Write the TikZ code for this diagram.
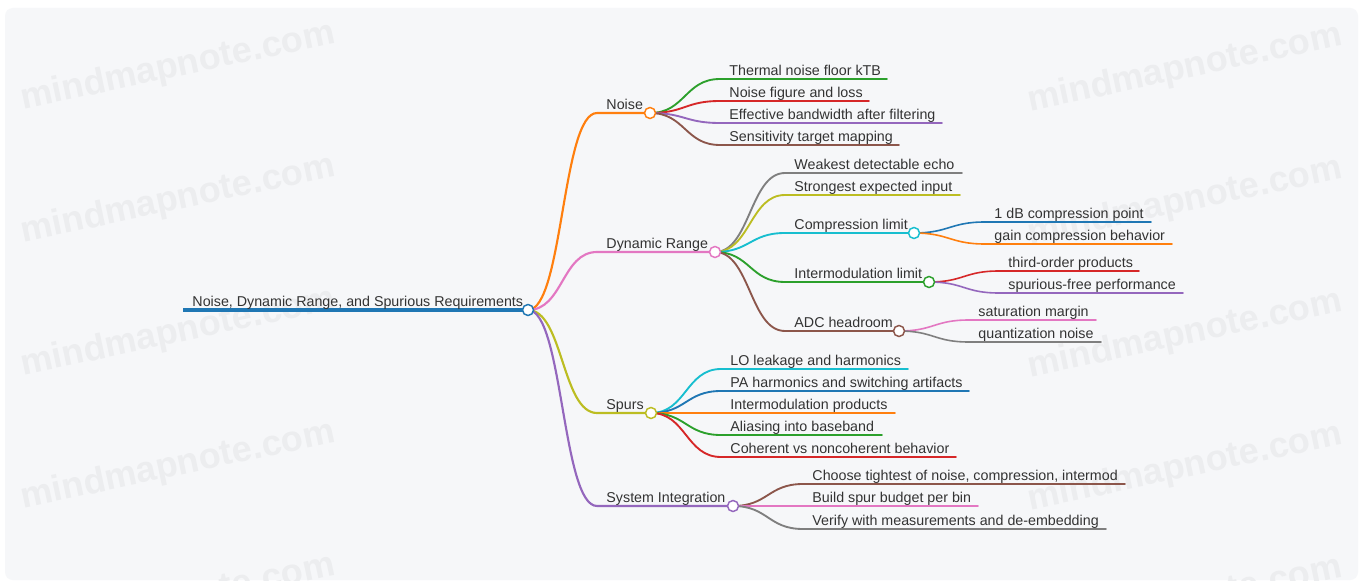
\documentclass[tikz,border=0pt]{standalone}
\usepackage{fontspec}
\setmainfont{Liberation Sans}
\definecolor{cblue}{HTML}{1F77B4}
\definecolor{corange}{HTML}{FF7F0E}
\definecolor{cgreen}{HTML}{2CA02C}
\definecolor{cred}{HTML}{D62728}
\definecolor{cpurple}{HTML}{9467BD}
\definecolor{cbrown}{HTML}{8C564B}
\definecolor{cpink}{HTML}{E377C2}
\definecolor{cgray}{HTML}{7F7F7F}
\definecolor{colive}{HTML}{BCBD22}
\definecolor{ccyan}{HTML}{17BECF}
\definecolor{textc}{HTML}{333333}
\definecolor{panelc}{HTML}{F6F7F9}
\definecolor{wmc}{HTML}{ECEDEF}
\tikzset{
  txt/.style={inner sep=0pt, anchor=base west, text=textc, font=\fontsize{10.7}{12}\selectfont},
  dot/.style={circle, minimum size=8.25pt, inner sep=0pt, fill=white, line width=1.1pt},
  lvA/.style={line width=3pt},
  lvB/.style={line width=1.6pt},
  lvC/.style={line width=1.4pt},
  lvD/.style={line width=1.2pt},
  wm/.style={text=wmc, inner sep=0pt, rotate=12, font=\fontsize{27}{30}\selectfont\bfseries}
}
% #1 name, #2 parent coordinate, #3 colour, #4 x start, #5 x end, #6 y, #7 text, #8 width style
\newcommand\mmbranch[8]{%
  \coordinate (#1-s) at (#4,#6);
  \coordinate (#1-e) at (#5,#6);
  \draw[#3, #8, line cap=round] (#2) .. controls +(35,0) and +(-35,0) .. (#1-s) -- (#1-e);
  \node[txt] (#1) at ([xshift=6.9pt,yshift=2.8pt]#1-s) {#7};
}
\begin{document}
\begin{tikzpicture}[x=0.75pt,y=-0.75pt]
\useasboundingbox (0,0) rectangle (1359,581);
\fill[white] (0,0) rectangle (1359,581);
\fill[panelc, rounded corners=6pt] (5,8) rectangle (1358,580);
\begin{scope}
  \clip[rounded corners=6pt] (5,8) rectangle (1358,580);
  \foreach \wy [count=\i] in {67,200,333,466,599} {
    \node[wm] (wmL\i) at (178,\wy) {mindmapnote.com};
    \node[wm] (wmR\i) at (1185,\wy+2) {mindmapnote.com};
  }
\end{scope}
% root
\coordinate (root-s) at (183,310);
\coordinate (root-e) at (528,310);
\draw[cblue, lvA] (root-s) -- (root-e);
\node[txt] (root) at ([xshift=6.9pt,yshift=2.8pt]root-s) {Noise, Dynamic Range, and Spurious Requirements};
% level 1
\mmbranch{noise}{root-e}{corange}{597}{650}{113}{Noise}{lvB}
\mmbranch{dr}{root-e}{cpink}{597}{715}{252}{Dynamic Range}{lvB}
\mmbranch{spurs}{root-e}{colive}{597}{651}{413}{Spurs}{lvB}
\mmbranch{sys}{root-e}{cpurple}{597}{733}{506}{System Integration}{lvB}
% noise
\mmbranch{thermal}{noise-e}{cgreen}{720}{887}{79}{Thermal noise floor kTB}{lvC}
\mmbranch{nfig}{noise-e}{cred}{720}{869}{101}{Noise figure and loss}{lvC}
\mmbranch{effbw}{noise-e}{cpurple}{720}{942}{123}{Effective bandwidth after filtering}{lvC}
\mmbranch{sens}{noise-e}{cbrown}{720}{899}{145}{Sensitivity target mapping}{lvC}
% dynamic range
\mmbranch{weak}{dr-e}{cgray}{785}{962}{173}{Weakest detectable echo}{lvC}
\mmbranch{strong}{dr-e}{colive}{785}{960}{195}{Strongest expected input}{lvC}
\mmbranch{comp}{dr-e}{ccyan}{785}{914}{233}{Compression limit}{lvC}
\mmbranch{imod}{dr-e}{cgreen}{785}{929}{282}{Intermodulation limit}{lvC}
\mmbranch{adc}{dr-e}{cbrown}{785}{899}{331}{ADC headroom}{lvC}
\mmbranch{dbone}{comp-e}{cblue}{985}{1151}{222}{1 dB compression point}{lvD}
\mmbranch{gaincomp}{comp-e}{corange}{985}{1172}{244}{gain compression behavior}{lvD}
\mmbranch{third}{imod-e}{cred}{999}{1139}{271}{third-order products}{lvD}
\mmbranch{sfdr}{imod-e}{cpurple}{999}{1183}{293}{spurious-free performance}{lvD}
\mmbranch{sat}{adc-e}{cpink}{969}{1096}{320}{saturation margin}{lvD}
\mmbranch{quant}{adc-e}{cgray}{969}{1101}{342}{quantization noise}{lvD}
% spurs
\mmbranch{lo}{spurs-e}{ccyan}{721}{908}{369}{LO leakage and harmonics}{lvC}
\mmbranch{pa}{spurs-e}{cblue}{721}{969}{391}{PA harmonics and switching artifacts}{lvC}
\mmbranch{imp}{spurs-e}{corange}{721}{895}{413}{Intermodulation products}{lvC}
\mmbranch{alias}{spurs-e}{cgreen}{721}{882}{435}{Aliasing into baseband}{lvC}
\mmbranch{coh}{spurs-e}{cred}{721}{956}{457}{Coherent vs noncoherent behavior}{lvC}
% system integration
\mmbranch{choose}{sys-e}{cbrown}{803}{1125}{484}{Choose tightest of noise, compression, intermod}{lvC}
\mmbranch{build}{sys-e}{cpink}{803}{978}{506}{Build spur budget per bin}{lvC}
\mmbranch{verify}{sys-e}{cgray}{803}{1106}{529}{Verify with measurements and de-embedding}{lvC}
% circles
\foreach \n/\c in {root/cblue, noise/corange, dr/cpink, spurs/colive, sys/cpurple, comp/ccyan, imod/cgreen, adc/cbrown}
  \node[dot, draw=\c] (\n-dot) at (\n-e) {};
\end{tikzpicture}
\end{document}
